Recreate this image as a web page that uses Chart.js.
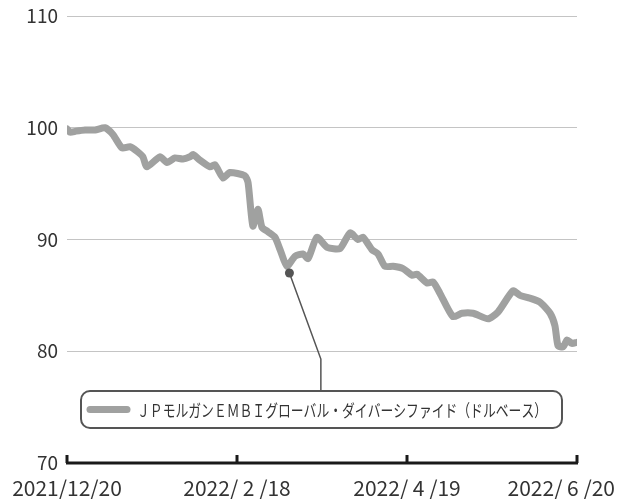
<!DOCTYPE html>
<html>
<head>
<meta charset="utf-8">
<script src="https://cdn.jsdelivr.net/npm/chart.js@4"></script>
<style>
  body { margin: 0; background: #fff; }
  canvas { display: block; }
</style>
</head>
<body>
<canvas id="chart_line" width="618" height="499"></canvas>
<script>
// day index from 2021/12/20 (tick every 60)
var dayIdx = [0, 1.1, 3.2, 6.4, 9.9, 13.4, 16.2, 19.4, 22.2, 24.7, 26.8, 28.2, 32.8, 35.3, 38.1, 40.9, 43.4, 44.5,
    46.9, 50.5, 52.2, 55.1, 57.5, 62.8, 63.9, 65.6, 67.4, 68.8, 70.9, 73.4, 75.2, 77.6, 80.5, 83.3, 85.1, 88.2,
    91.8, 96.4, 99.9, 102.7, 104.5, 107.6, 109.8, 112.2, 115.1, 118.6, 121.8, 123.5, 127.1, 129.2, 131.6, 136.2,
    139.4, 143.3, 148.6, 152.1, 157.4, 159.9, 162.7, 166.9, 170.5, 172.2, 173.3, 175.1, 176.5, 178.2, 180];
var valores = [99.9, 99.6, 99.7, 99.8, 99.8, 100.0, 99.4, 98.2, 98.3, 97.9, 97.4, 96.5, 97.4, 96.9, 97.3, 97.2, 97.4, 97.6,
    97.1, 96.5, 96.7, 95.5, 96.0, 95.7, 95.1, 91.2, 92.7, 91.1, 90.7, 90.2, 89.1, 87.6, 88.5, 88.7, 88.3, 90.2,
    89.3, 89.2, 90.6, 90.0, 90.2, 89.1, 88.7, 87.6, 87.6, 87.4, 86.8, 86.9, 86.1, 86.2, 85.2, 83.1,
    83.4, 83.4, 82.9, 83.5, 85.4, 85.0, 84.8, 84.4, 83.4, 82.3, 80.5, 80.4, 81.0, 80.7, 80.8];

var tickPos = [0, 60, 120, 180];
var tickLabels = ["2021/12/20", "2022/ 2 /18", "2022/ 4 /19", "2022/ 6 /20"];
var yTicks = [70, 80, 90, 100, 110];
var serieNombre = "ＪＰモルガンＥＭＢＩグローバル・ダイバーシファイド（ドルベース）";

// marked point and elbow of the leader line (data units)
var marca = { x: 78.5, y: 87.0 };
var codo = { x: 89.6, y: 79.3 };

var colorLinea = "#a0a1a0";
var fuente = "'Noto Sans CJK JP', 'Noto Sans', sans-serif";

var puntos = dayIdx.map(function(d, i) {
    return { x: d, y: valores[i] };
});

var extras = {
    id: "extras",
    afterDatasetsDraw: function(chart) {
        var ctx = chart.ctx;
        var area = chart.chartArea;
        var sx = chart.scales.x;
        var sy = chart.scales.y;
        ctx.save();

        // x axis with inward ticks
        ctx.strokeStyle = "#1a1a1a";
        ctx.lineWidth = 3;
        ctx.beginPath();
        ctx.moveTo(area.left - 1, area.bottom);
        ctx.lineTo(area.right + 1, area.bottom);
        tickPos.forEach(function(v) {
            var px = sx.getPixelForValue(v);
            ctx.moveTo(px, area.bottom);
            ctx.lineTo(px, area.bottom - 8);
        });
        ctx.stroke();

        // x labels
        ctx.fillStyle = "#333";
        ctx.font = "21px " + fuente;
        ctx.textBaseline = "middle";
        tickPos.forEach(function(v, i) {
            var w = ctx.measureText(tickLabels[i]).width;
            var px = sx.getPixelForValue(v) - w / 2;
            px = Math.max(4, Math.min(px, chart.width - 3 - w));
            ctx.textAlign = "left";
            ctx.fillText(tickLabels[i], px, area.bottom + 25);
        });

        // leader line
        var mx = sx.getPixelForValue(marca.x), my = sy.getPixelForValue(marca.y);
        var cx = sx.getPixelForValue(codo.x), cy = sy.getPixelForValue(codo.y);
        var boxTop = area.bottom - 72, boxBottom = area.bottom - 35;
        var boxLeft = area.left + 14, boxRight = area.right - 15;

        ctx.strokeStyle = "#555";
        ctx.lineWidth = 1.5;
        ctx.beginPath();
        ctx.moveTo(mx, my);
        ctx.lineTo(cx, cy);
        ctx.lineTo(cx, boxTop);
        ctx.stroke();

        ctx.fillStyle = "#555";
        ctx.beginPath();
        ctx.arc(mx, my, 4.5, 0, Math.PI * 2);
        ctx.fill();

        // legend box
        ctx.fillStyle = "#fff";
        ctx.strokeStyle = "#555";
        ctx.lineWidth = 2;
        ctx.beginPath();
        ctx.roundRect(boxLeft, boxTop, boxRight - boxLeft, boxBottom - boxTop, 9);
        ctx.fill();
        ctx.stroke();

        var midY = (boxTop + boxBottom) / 2;
        ctx.strokeStyle = colorLinea;
        ctx.lineWidth = 7;
        ctx.lineCap = "round";
        ctx.beginPath();
        ctx.moveTo(boxLeft + 9, midY);
        ctx.lineTo(boxLeft + 46, midY);
        ctx.stroke();

        ctx.fillStyle = "#333";
        ctx.font = "17px " + fuente;
        ctx.textAlign = "left";
        ctx.textBaseline = "middle";
        ctx.fillText(serieNombre, boxLeft + 56, midY + 1, 410);

        ctx.restore();
    }
};

var canvas = document.getElementById("chart_line").getContext("2d");
window.linea = new Chart(canvas, {
    type: "line",
    data: {
        datasets: [{
            label: serieNombre,
            data: puntos,
            borderColor: colorLinea,
            borderWidth: 7,
            borderJoinStyle: "round",
            borderCapStyle: "round",
            pointRadius: 0,
            tension: 0.2,
            fill: false
        }]
    },
    options: {
        responsive: false,
        animation: false,
        layout: { padding: { top: 16, right: 41, left: 0, bottom: 0 } },
        plugins: {
            legend: { display: false },
            tooltip: { enabled: false }
        },
        scales: {
            x: {
                type: "linear",
                min: 0,
                max: 180,
                grid: { display: false },
                border: { display: false },
                ticks: { display: false },
                afterFit: function(s) { s.height = 36; }
            },
            y: {
                min: 70,
                max: 110,
                afterBuildTicks: function(s) {
                    s.ticks = yTicks.map(function(v) { return { value: v }; });
                },
                grid: { color: "#c4c4c4", lineWidth: 1, drawTicks: false },
                border: { display: false },
                ticks: {
                    padding: 9,
                    color: "#333",
                    font: { family: fuente, size: 19 }
                },
                afterFit: function(s) {
                    s.width = 67;
                    s.paddingTop = 0;
                    s.paddingBottom = 0;
                }
            }
        }
    },
    plugins: [extras]
});
</script>
</body>
</html>
